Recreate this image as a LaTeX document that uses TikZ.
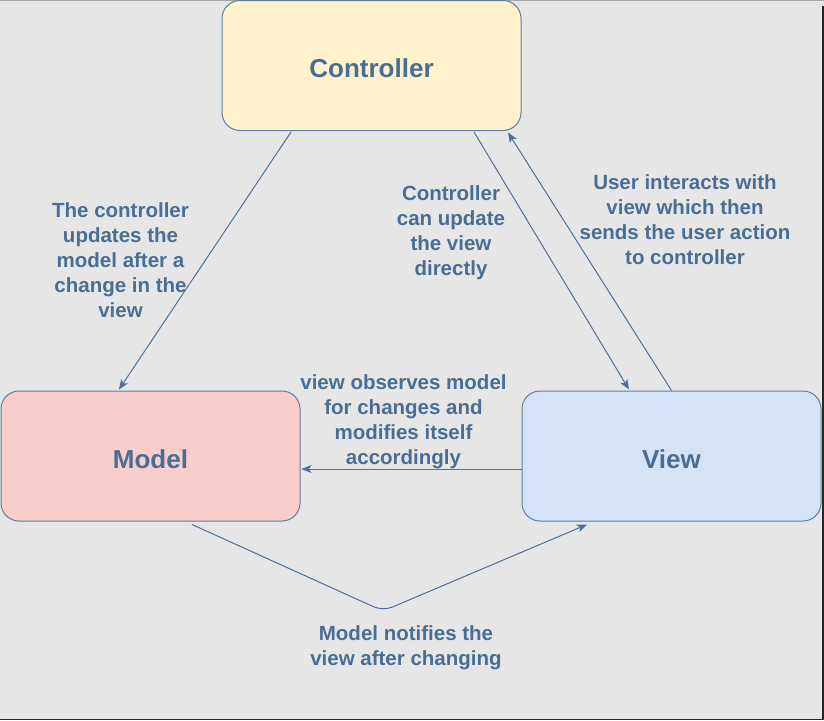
\documentclass[tikz,border=0pt]{standalone}
\usepackage{fontspec}
\setmainfont{Liberation Sans}
\usetikzlibrary{arrows.meta,calc}
\definecolor{bg}{HTML}{E6E6E6}
\definecolor{txt}{HTML}{4A6D94}
\definecolor{edge}{HTML}{4F709A}
\definecolor{boxline}{HTML}{5E7EA3}
\definecolor{cfill}{HTML}{FFF2CC}
\definecolor{mfill}{HTML}{F8CECC}
\definecolor{vfill}{HTML}{D6E3F7}
\begin{document}
\begin{tikzpicture}[x=1pt,y=-1pt,
  box/.style={draw=boxline,line width=1pt,rounded corners=18pt,minimum width=299pt,minimum height=130pt,inner sep=0pt,text=txt,text height=24.5pt,text depth=0pt,font=\fontsize{26}{30}\selectfont\bfseries},
  lbl/.style={text=txt,align=center,inner sep=0pt,font=\fontsize{20.5}{25}\selectfont\bfseries},
  conn/.style={draw=edge,line width=1pt,-{Stealth[length=10pt,width=8pt,inset=2.5pt]}}]
\fill[bg] (0,0) rectangle (824,720);
\useasboundingbox (0,0) rectangle (824,720);
\draw[gray!70,line width=1pt] (0,0.5) -- (824,0.5);
\draw[black!85,line width=2pt] (823,6) -- (823,720);
\draw[black!85,line width=1.5pt] (0,719.25) -- (824,719.25);
\node[box,fill=cfill] (ctrl) at (371.5,65.5) {Controller};
\node[box,fill=mfill] (model) at (150.5,456) {Model};
\node[box,fill=vfill] (view) at (671.5,456) {View};
\coordinate (bend) at (383,611);
\draw[conn] ($(ctrl.south)+(-80.5,1)$) -- ($(model.north)+(-31.5,-1)$);
\draw[conn] ($(ctrl.south)+(102.5,1)$) -- ($(view.north)+(-42.5,-1)$);
\draw[conn] (view.north) -- ($(ctrl.south)+(136.5,1.5)$);
\draw[conn] ($(view.west)+(0,13)$) -- ($(model.east)+(1,13)$);
\draw[conn,rounded corners=10pt] ($(model.south)+(41.5,3)$) -- (bend) -- ($(view.south)+(-84.5,3)$);
\node[lbl] (l1) at (120.5,260) {The controller\\updates the\\model after a\\change in the\\view};
\node[lbl] (l2) at (451,233) {Controller\\can update\\the view\\directly};
\node[lbl] (l3) at (685,220) {User interacts with\\view which then\\sends the user action\\to controller};
\node[lbl] (l4) at (403.5,422) {view observes model\\for changes and\\modifies itself\\accordingly};
\node[lbl] (l5) at (406,648) {Model notifies the\\view after changing};
\end{tikzpicture}
\end{document}
